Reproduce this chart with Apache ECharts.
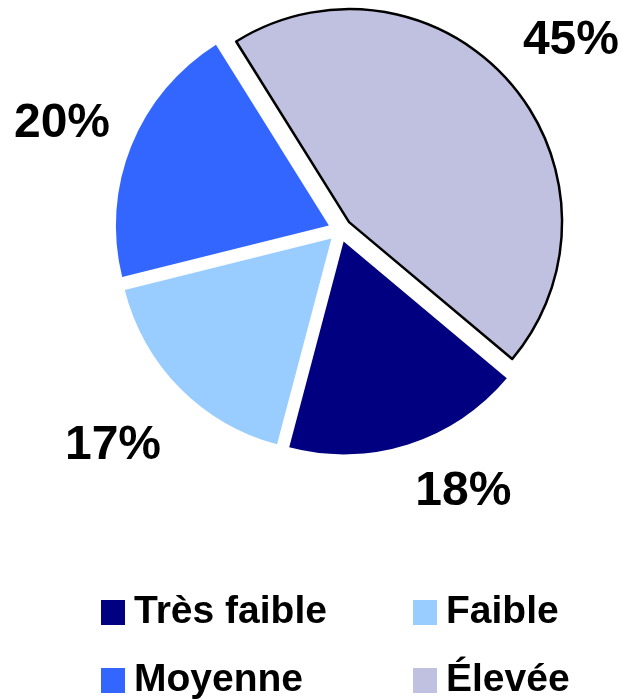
<!DOCTYPE html>
<html>
<head>
<meta charset="utf-8">
<script src="https://cdn.jsdelivr.net/npm/echarts@6/dist/echarts.min.js"></script>
<style>
  html, body { margin: 0; padding: 0; background: #fff; }
  #chart { width: 625px; height: 699px; }
</style>
</head>
<body>
<div id="chart"></div>
<script>
// Répartition par niveau
const categories = ['Très faible', 'Faible', 'Moyenne', 'Élevée'];
const shares = [18, 17, 20, 45];
const sliceColors = ['#000080', '#99CCFF', '#3366FF', '#C0C0E0'];

const FONT = '"Liberation Sans", Arial, Helvetica, sans-serif';
const CENTER = [340, 230];
const START = -40;

// small hand nudges for the percentage labels, in pixels
const labelNudge = [[32, -26], [-12, 4], [2, 7], [3, 9]];

const chart = echarts.init(document.getElementById('chart'), null, { renderer: 'canvas' });

const pieData = categories.map((name, i) => ({
  name,
  value: shares[i],
  selected: true,
  itemStyle: name === 'Élevée'
    ? { color: sliceColors[i], borderColor: '#000', borderWidth: 2.5 }
    : { color: sliceColors[i], borderWidth: 0 }
}));

const labelData = categories.map((name, i) => ({ name, value: shares[i] }));

// One legend block per entry, laid out as a 2 x 2 grid
const legendSlots = [
  { left: 101, top: 593 },
  { left: 413, top: 593 },
  { left: 101, top: 661 },
  { left: 413, top: 661 }
];
const legends = categories.map((name, i) => ({
  data: [{ name, icon: 'rect', itemStyle: { color: sliceColors[i], borderWidth: 0 } }],
  left: legendSlots[i].left,
  top: legendSlots[i].top,
  padding: 0,
  itemWidth: 24,
  itemHeight: 25,
  itemGap: 0,
  selectedMode: false,
  textStyle: { fontFamily: FONT, fontWeight: 'bold', fontSize: 39, color: '#000', padding: [0, 0, 0, 4] }
}));

chart.setOption({
  animation: false,
  color: sliceColors,
  legend: legends,
  series: [
    {
      type: 'pie',
      center: CENTER,
      radius: 213,
      startAngle: START,
      clockwise: true,
      selectedMode: 'multiple',
      selectedOffset: 12,
      silent: true,
      label: { show: false },
      labelLine: { show: false },
      emphasis: { disabled: true },
      data: pieData
    },
    {
      // transparent ring that carries the percentage labels
      type: 'pie',
      center: CENTER,
      radius: [272, 326],
      startAngle: START,
      clockwise: true,
      silent: true,
      itemStyle: { color: 'rgba(0,0,0,0)' },
      label: {
        show: true,
        position: 'inside',
        formatter: '{c}%',
        fontFamily: FONT,
        fontWeight: 'bold',
        fontSize: 48,
        color: '#000'
      },
      labelLine: { show: false },
      labelLayout: (params) => ({
        dx: labelNudge[params.dataIndex][0],
        dy: labelNudge[params.dataIndex][1]
      }),
      emphasis: { disabled: true },
      data: labelData
    }
  ]
});
</script>
</body>
</html>
